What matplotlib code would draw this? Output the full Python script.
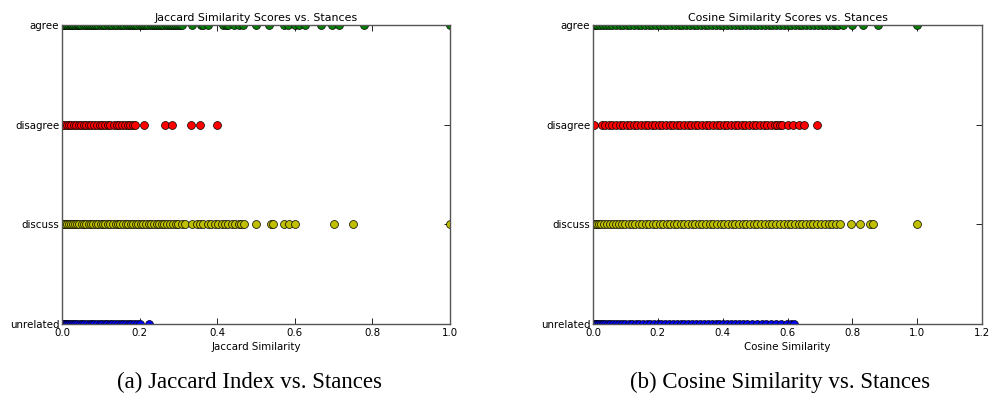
import matplotlib
matplotlib.use("Agg")
import matplotlib.pyplot as plt

# stance order on the y axis (bottom to top)
stances = ["unrelated", "discuss", "disagree", "agree"]
stance_colors = ["b", "y", "r", "g"]

# Jaccard similarity values per stance
jac_unrelated = [0.000, 0.003, 0.006, 0.010, 0.014, 0.019, 0.024, 0.029, 0.034, 0.040,
                 0.046, 0.052, 0.058, 0.064, 0.071, 0.077, 0.083, 0.090, 0.097, 0.103,
                 0.110, 0.117, 0.124, 0.130, 0.137, 0.144, 0.151, 0.158, 0.165, 0.172,
                 0.179, 0.186, 0.193, 0.200, 0.224]
jac_discuss = [0.000, 0.005, 0.009, 0.014, 0.019, 0.024, 0.029, 0.034, 0.040, 0.045,
               0.051, 0.057, 0.063, 0.069, 0.075, 0.081, 0.087, 0.093, 0.100, 0.106,
               0.112, 0.119, 0.125, 0.131, 0.138, 0.144, 0.150, 0.157, 0.164, 0.170,
               0.177, 0.183, 0.190, 0.197, 0.203, 0.210, 0.217, 0.223, 0.230, 0.237,
               0.244, 0.250, 0.257, 0.264, 0.271, 0.278, 0.286, 0.293, 0.300, 0.308,
               0.317, 0.334, 0.348, 0.356, 0.364, 0.375, 0.385, 0.394, 0.403, 0.412,
               0.421, 0.429, 0.438, 0.447, 0.455, 0.462, 0.470, 0.500, 0.538, 0.545,
               0.571, 0.585, 0.600, 0.700, 0.750, 1.000]
jac_disagree = [0.000, 0.006, 0.012, 0.018, 0.024, 0.031, 0.037, 0.043, 0.050, 0.056,
                0.063, 0.069, 0.076, 0.083, 0.090, 0.097, 0.104, 0.111, 0.118, 0.125,
                0.133, 0.141, 0.148, 0.155, 0.162, 0.170, 0.176, 0.182, 0.188, 0.211,
                0.265, 0.284, 0.333, 0.356, 0.400]
jac_agree = [0.000, 0.004, 0.009, 0.013, 0.018, 0.022, 0.027, 0.031, 0.036, 0.041,
             0.045, 0.050, 0.056, 0.061, 0.066, 0.071, 0.077, 0.083, 0.088, 0.094,
             0.100, 0.105, 0.111, 0.118, 0.125, 0.130, 0.136, 0.143, 0.150, 0.154,
             0.160, 0.167, 0.172, 0.178, 0.182, 0.188, 0.194, 0.200, 0.206, 0.212,
             0.217, 0.222, 0.229, 0.235, 0.240, 0.245, 0.250, 0.256, 0.261, 0.267,
             0.273, 0.278, 0.283, 0.288, 0.294, 0.300, 0.304, 0.310, 0.334, 0.357,
             0.364, 0.375, 0.415, 0.423, 0.429, 0.444, 0.455, 0.467, 0.500, 0.533,
             0.571, 0.583, 0.600, 0.611, 0.625, 0.667, 0.695, 0.714, 0.778, 1.000]

# Cosine similarity values per stance
cos_unrelated = [0.000, 0.004, 0.008, 0.013, 0.018, 0.024, 0.030, 0.037, 0.045, 0.053,
                 0.062, 0.071, 0.080, 0.090, 0.100, 0.110, 0.121, 0.132, 0.143, 0.154,
                 0.165, 0.177, 0.188, 0.199, 0.211, 0.222, 0.234, 0.246, 0.258, 0.270,
                 0.282, 0.294, 0.306, 0.318, 0.330, 0.342, 0.354, 0.366, 0.378, 0.390,
                 0.402, 0.414, 0.426, 0.438, 0.450, 0.462, 0.475, 0.490, 0.505, 0.520,
                 0.535, 0.550, 0.565, 0.580, 0.598, 0.610, 0.620]
cos_discuss = [0.000, 0.005, 0.011, 0.018, 0.026, 0.034, 0.043, 0.052, 0.061, 0.070,
               0.080, 0.090, 0.100, 0.110, 0.121, 0.131, 0.142, 0.152, 0.163, 0.173,
               0.184, 0.195, 0.206, 0.216, 0.227, 0.238, 0.249, 0.260, 0.271, 0.282,
               0.293, 0.304, 0.315, 0.326, 0.337, 0.349, 0.360, 0.371, 0.382, 0.394,
               0.405, 0.416, 0.428, 0.439, 0.450, 0.462, 0.473, 0.484, 0.496, 0.507,
               0.519, 0.530, 0.542, 0.553, 0.565, 0.576, 0.588, 0.600, 0.611, 0.623,
               0.634, 0.646, 0.657, 0.669, 0.680, 0.692, 0.703, 0.715, 0.727, 0.738,
               0.750, 0.762, 0.796, 0.824, 0.854, 0.864, 1.000]
cos_disagree = [0.003, 0.028, 0.038, 0.049, 0.060, 0.071, 0.082, 0.093, 0.104, 0.115,
                0.126, 0.137, 0.148, 0.159, 0.170, 0.181, 0.192, 0.203, 0.214, 0.225,
                0.236, 0.247, 0.258, 0.269, 0.280, 0.292, 0.303, 0.314, 0.325, 0.336,
                0.347, 0.358, 0.370, 0.381, 0.392, 0.403, 0.414, 0.426, 0.437, 0.448,
                0.459, 0.470, 0.482, 0.493, 0.504, 0.516, 0.527, 0.538, 0.549, 0.560,
                0.568, 0.576, 0.583, 0.600, 0.617, 0.635, 0.651, 0.690]
cos_agree = [0.000, 0.006, 0.013, 0.021, 0.030, 0.040, 0.050, 0.060, 0.071, 0.082,
             0.093, 0.104, 0.115, 0.126, 0.138, 0.149, 0.160, 0.172, 0.183, 0.195,
             0.206, 0.218, 0.229, 0.241, 0.252, 0.264, 0.275, 0.287, 0.298, 0.310,
             0.321, 0.333, 0.345, 0.356, 0.368, 0.379, 0.391, 0.402, 0.414, 0.426,
             0.437, 0.449, 0.460, 0.472, 0.484, 0.495, 0.507, 0.518, 0.530, 0.542,
             0.553, 0.565, 0.577, 0.588, 0.600, 0.611, 0.623, 0.635, 0.646, 0.658,
             0.670, 0.681, 0.693, 0.705, 0.716, 0.728, 0.740, 0.748, 0.756, 0.770,
             0.800, 0.833, 0.879, 1.000]

jaccard = [jac_unrelated, jac_discuss, jac_disagree, jac_agree]
cosine = [cos_unrelated, cos_discuss, cos_disagree, cos_agree]

FS = 7.4


def stance_plot(ax, groups, xmax, title, xlabel):
    for i, vals in enumerate(groups):
        ax.plot(vals, [i] * len(vals), "o", color=stance_colors[i],
                mec="k", mew=0.5, ms=5.7)
    ax.set_xlim(0, xmax)
    ax.set_ylim(0, 3)
    ax.set_yticks(range(len(stances)))
    ax.set_yticklabels(stances)
    ax.set_title(title, fontsize=FS + 0.5, pad=3)
    ax.set_xlabel(xlabel, fontsize=FS, labelpad=3)
    ax.tick_params(direction="in", top=True, right=True, labelsize=FS,
                   length=4, width=0.6)
    ax.tick_params(axis="x", pad=3)
    ax.tick_params(axis="y", pad=2)
    for s in ax.spines.values():
        s.set_linewidth(1.0)
        s.set_color("#555555")


fig = plt.figure(figsize=(9.9, 3.94), dpi=100)
ax1 = fig.add_axes([0.0626, 0.1777, 0.392, 0.7588])
ax2 = fig.add_axes([0.599, 0.1777, 0.393, 0.7588])

stance_plot(ax1, jaccard, 1.0, "Jaccard Similarity Scores vs. Stances", "Jaccard Similarity")
stance_plot(ax2, cosine, 1.2, "Cosine Similarity Scores vs. Stances", "Cosine Similarity")
ax2.set_xticks([0.0, 0.2, 0.4, 0.6, 0.8, 1.0, 1.2])

fig.text(0.252, 0.03, "(a) Jaccard Index vs. Stances", ha="center", va="center",
         family="Liberation Serif", fontsize=16.5)
fig.text(0.788, 0.03, "(b) Cosine Similarity vs. Stances", ha="center", va="center",
         family="Liberation Serif", fontsize=16.5)

fig.savefig("out.png", dpi=100, facecolor="white")
